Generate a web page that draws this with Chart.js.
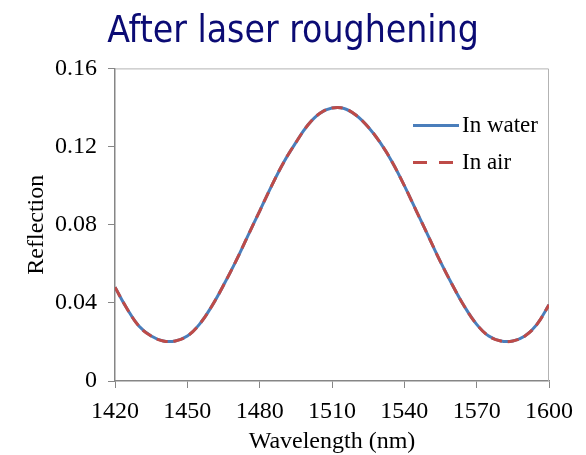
<!DOCTYPE html>
<html>
<head>
<meta charset="utf-8">
<script src="https://cdn.jsdelivr.net/npm/chart.js@4/dist/chart.umd.min.js"></script>
<style>
  html, body { margin: 0; padding: 0; background: #fff; }
  #wrap { width: 586px; height: 455px; }
</style>
</head>
<body>
<div id="wrap"><canvas id="reflChart"></canvas></div>
<script>
// wavelength samples (nm) and measured reflection
const wavelengths = [1420, 1425, 1430, 1435, 1440, 1445, 1450, 1455, 1460, 1465,
                     1470, 1475, 1480, 1485, 1490, 1495, 1500, 1505, 1510, 1515,
                     1520, 1525, 1530, 1535, 1540, 1545, 1550, 1555, 1560, 1565,
                     1570, 1575, 1580, 1585, 1590, 1595, 1600];
const inWater = [0.048, 0.037, 0.028, 0.023, 0.0205, 0.0205, 0.023, 0.029, 0.038, 0.049,
                 0.061, 0.074, 0.087, 0.100, 0.112, 0.122, 0.131, 0.137, 0.1397, 0.1395,
                 0.136, 0.130, 0.122, 0.112, 0.100, 0.087, 0.074, 0.061, 0.049, 0.038,
                 0.029, 0.023, 0.0205, 0.0205, 0.023, 0.029, 0.039];
const inAir = [0.048, 0.037, 0.028, 0.023, 0.0205, 0.0205, 0.023, 0.029, 0.038, 0.049,
               0.061, 0.074, 0.087, 0.100, 0.112, 0.122, 0.131, 0.137, 0.1397, 0.1395,
               0.136, 0.130, 0.122, 0.112, 0.100, 0.087, 0.074, 0.061, 0.049, 0.038,
               0.029, 0.023, 0.0205, 0.0205, 0.023, 0.029, 0.039];
const seriesNames = ['In water', 'In air'];
const xTicks = [1420, 1450, 1480, 1510, 1540, 1570, 1600];
const yTicks = [0, 0.04, 0.08, 0.12, 0.16];

const serif = '"Liberation Serif", "Times New Roman", serif';
const axisGray = '#868686';

function toPoints(ys) {
  return wavelengths.map((w, i) => ({ x: w, y: ys[i] }));
}

// light frame round the plot area (top and right edges)
const plotFrame = {
  id: 'plotFrame',
  beforeDatasetsDraw(chart) {
    const a = chart.chartArea, ctx = chart.ctx;
    ctx.save();
    ctx.strokeStyle = '#b3b3b3';
    ctx.lineWidth = 1;
    ctx.beginPath();
    ctx.moveTo(a.left, a.top + 0.5);
    ctx.lineTo(a.right - 0.5, a.top + 0.5);
    ctx.lineTo(a.right - 0.5, a.bottom);
    ctx.stroke();
    ctx.restore();
  }
};

// legend drawn inside the plot, top right
const innerLegend = {
  id: 'innerLegend',
  afterDatasetsDraw(chart) {
    const a = chart.chartArea, ctx = chart.ctx;
    const x0 = a.right - 136, x1 = a.right - 90;
    ctx.save();
    chart.data.datasets.forEach((ds, i) => {
      const y = a.top + 57 + i * 37;
      ctx.strokeStyle = ds.borderColor;
      ctx.lineWidth = ds.borderWidth;
      ctx.setLineDash(ds.borderDash ? [14, 12] : []);
      ctx.beginPath();
      ctx.moveTo(x0, y);
      ctx.lineTo(x1, y);
      ctx.stroke();
      ctx.setLineDash([]);
      ctx.fillStyle = '#000';
      ctx.font = '23px ' + serif;
      ctx.textBaseline = 'middle';
      ctx.fillText(ds.label, x1 + 3, y + 1);
    });
    ctx.restore();
  }
};

new Chart(document.getElementById('reflChart'), {
  type: 'line',
  data: {
    datasets: [
      {
        label: seriesNames[0],
        data: toPoints(inWater),
        borderColor: '#4a7ebb',
        borderWidth: 3,
        pointRadius: 0,
        tension: 0.4,
        fill: false,
        order: 2
      },
      {
        label: seriesNames[1],
        data: toPoints(inAir),
        borderColor: '#be4b48',
        borderWidth: 3,
        borderDash: [11, 6],
        pointRadius: 0,
        tension: 0.4,
        fill: false,
        order: 1
      }
    ]
  },
  options: {
    responsive: true,
    maintainAspectRatio: false,
    animation: false,
    layout: { padding: { top: 4, right: 0, bottom: 0, left: 0 } },
    plugins: {
      legend: { display: false },
      tooltip: { enabled: false },
      title: {
        display: true,
        text: 'After laser roughening',
        color: '#0b0b74',
        font: { family: '"DejaVu Sans Condensed", "DejaVu Sans", sans-serif', size: 37, weight: 'normal' },
        padding: { top: 6, bottom: 14 }
      }
    },
    scales: {
      x: {
        type: 'linear',
        min: 1420,
        max: 1600,
        afterBuildTicks: s => { s.ticks = xTicks.map(v => ({ value: v })); },
        afterFit: s => { s.height = 74; },
        ticks: { color: '#000', font: { family: serif, size: 24 }, padding: 9, maxRotation: 0, callback: v => String(v) },
        grid: { drawOnChartArea: false, drawTicks: true, tickLength: 7, color: axisGray },
        border: { color: axisGray, width: 1.5 },
        title: { display: true, text: 'Wavelength (nm)', color: '#000', font: { family: serif, size: 24 }, padding: { top: 0, bottom: -1 } }
      },
      y: {
        type: 'linear',
        min: 0,
        max: 0.16,
        afterBuildTicks: s => { s.ticks = yTicks.map(v => ({ value: v })); },
        afterFit: s => { s.width = 115; },
        ticks: { color: '#000', font: { family: serif, size: 24 }, padding: 11, callback: v => String(Math.round(v * 100) / 100) },
        grid: { drawOnChartArea: false, drawTicks: true, tickLength: 7, color: axisGray },
        border: { color: axisGray, width: 1.5 },
        title: { display: true, text: 'Reflection', color: '#000', font: { family: serif, size: 24 }, padding: { top: 22, bottom: 4 } }
      },
      // empty right-hand axis that only reserves the margin beside the plot
      yRight: {
        position: 'right',
        display: true,
        afterFit: s => { s.width = 37; },
        ticks: { display: false },
        grid: { display: false },
        border: { display: false }
      }
    }
  },
  plugins: [plotFrame, innerLegend]
});
</script>
</body>
</html>
